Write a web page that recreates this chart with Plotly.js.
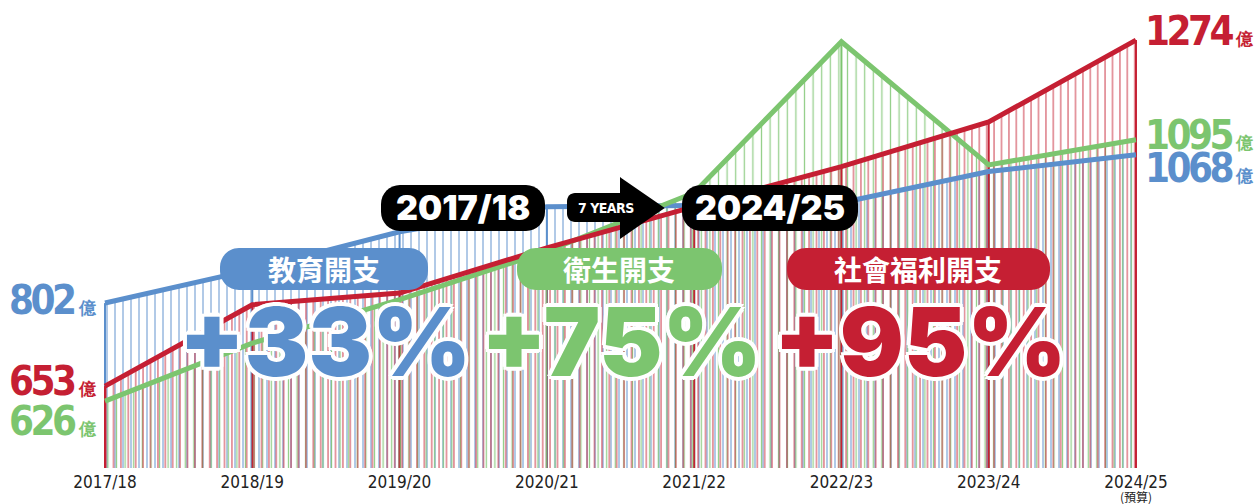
<!DOCTYPE html>
<html>
<head>
<meta charset="utf-8">
<script src="https://cdn.plot.ly/plotly-3.0.1.min.js"></script>
<style>
html,body{margin:0;padding:0;background:#fff;}
#chart{width:1254px;height:504px;}
</style>
</head>
<body>
<div id="chart"></div>
<script>
// ---- data (億港元) ----
const years = ['2017/18','2018/19','2019/20','2020/21','2021/22','2022/23','2023/24','2024/25'];
const yearNotes = ['','','','','','','','(預算)'];
const education = [802, 862, 930, 975, 977, 982, 1038, 1068];
const health    = [626, 730, 808, 895, 1000, 1271, 1050, 1095];
const welfare   = [653, 799, 820, 901, 975, 1047, 1127, 1274];
const seriesNames = ['教育開支', '衛生開支', '社會福利開支'];
const growthLabels = ['+33%', '+75%', '+95%'];
const periodStart = '2017/18';
const periodEnd = '2024/25';
const periodGap = '7 YEARS';
const unit = '億';

// ---- style ----
const BLUE = '#5b8fcc', GREEN = '#7cc56f', RED = '#c51f33';
const ML = 95, MR = 108, MT = 20, MB = 36, WIDTH = 1254, HEIGHT = 504;
const PW = WIDTH - ML - MR, PH = HEIGHT - MT - MB;
const YR = [506, 1310];
const XR = [-0.068, 7.068];
const xs = years.map((_, i) => i);

function px(x){ return (x - ML) / PW; }
function py(y){ return (HEIGHT - MB - y) / PH; }
function P(x, y){ return px(x).toFixed(5) + ',' + py(y).toFixed(5); }
function roundRect(x0, y0, x1, y1, r){
  const k = 0.5523 * r;
  return 'M' + P(x0 + r, y0) + ' L' + P(x1 - r, y0) +
    ' C' + P(x1 - r + k, y0) + ' ' + P(x1, y0 + r - k) + ' ' + P(x1, y0 + r) +
    ' L' + P(x1, y1 - r) +
    ' C' + P(x1, y1 - r + k) + ' ' + P(x1 - r + k, y1) + ' ' + P(x1 - r, y1) +
    ' L' + P(x0 + r, y1) +
    ' C' + P(x0 + r - k, y1) + ' ' + P(x0, y1 - r + k) + ' ' + P(x0, y1 - r) +
    ' L' + P(x0, y0 + r) +
    ' C' + P(x0, y0 + r - k) + ' ' + P(x0 + r - k, y0) + ' ' + P(x0 + r, y0) + ' Z';
}

const series = [
  {vals: education, color: BLUE, size: 8,   name: seriesNames[0]},
  {vals: health,    color: GREEN, size: 8.6, name: seriesNames[1]},
  {vals: welfare,   color: RED,  size: 7.4, name: seriesNames[2]}
];

const traces = [];
// hatched fills
series.forEach(s => {
  traces.push({
    x: xs, y: s.vals, type: 'scatter', mode: 'lines',
    line: {width: 0, color: s.color},
    fill: 'tozeroy', fillcolor: 'rgba(0,0,0,0)',
    fillpattern: {shape: '|', fgcolor: s.color, bgcolor: 'rgba(255,255,255,0)', size: s.size, solidity: 0.15, fgopacity: 0.8},
    hoverinfo: 'skip', showlegend: false
  });
});
// lines
series.forEach(s => {
  traces.push({
    x: xs, y: s.vals, type: 'scatter', mode: 'lines',
    line: {width: 5, color: s.color},
    name: s.name, showlegend: false, hoverinfo: 'skip'
  });
});

const shapes = [];
// drop lines at each year
series.forEach((s, si) => {
  s.vals.forEach((v, i) => {
    shapes.push({type: 'line', xref: 'x', yref: 'y', x0: i, x1: i, y0: YR[0], y1: v,
      line: {color: s.color, width: 2}, layer: 'below'});
  });
});

// pills
const pills = [
  {b: [220, 248, 428, 290], r: 19, color: BLUE},
  {b: [517, 248, 722, 290], r: 19, color: GREEN},
  {b: [787, 248, 1050, 290], r: 19, color: RED},
  {b: [381, 185, 545, 231], r: 19, color: '#000'},
  {b: [682, 185, 858, 231], r: 19, color: '#000'}
];
pills.forEach(p => {
  shapes.push({type: 'path', xref: 'paper', yref: 'paper', layer: 'above',
    path: roundRect(p.b[0], p.b[1], p.b[2], p.b[3], p.r), fillcolor: p.color, line: {width: 0}});
});
// arrow
shapes.push({type: 'path', xref: 'paper', yref: 'paper', layer: 'above',
  path: roundRect(567, 193, 632, 222, 8), fillcolor: '#000', line: {width: 0}});
shapes.push({type: 'path', xref: 'paper', yref: 'paper', layer: 'above',
  path: 'M' + P(621, 179) + ' L' + P(663, 208) + ' L' + P(621, 237) + ' Z', fillcolor: '#000', line: {color: '#000', width: 2}});

const NUMFONT = 'Liberation Sans Narrow, DejaVu Sans Condensed, Arial Narrow, sans-serif';
const ROUND = 'Inter, Open Sans, Noto Sans, sans-serif';
const CJK = 'Noto Sans CJK TC, Noto Sans CJK SC, sans-serif';

const annotations = [];
function valueLabel(v){
  return '<b><span style="letter-spacing:-3.5px">' + v + '</span><span style="font-size:17px"> ' + unit + '</span></b>';
}
// end labels: [education, health, welfare]
const leftShift = [3, -20, 5];
const rightShift = [-13, 5, 9];
series.forEach((s, si) => {
  annotations.push({xref: 'x', yref: 'y', x: 0, y: s.vals[0], xanchor: 'right', yanchor: 'middle',
    xshift: -6, yshift: leftShift[si], showarrow: false,
    text: valueLabel(s.vals[0]), font: {family: NUMFONT, size: 40, color: s.color}});
  annotations.push({xref: 'x', yref: 'y', x: 7, y: s.vals[7], xanchor: 'left', yanchor: 'middle',
    xshift: 7, yshift: rightShift[si], showarrow: false,
    text: valueLabel(s.vals[7]), font: {family: NUMFONT, size: 40, color: s.color}});
});

// pill labels
const pillCenters = [[324, 269], [619, 269], [918, 269]];
seriesNames.forEach((n, i) => {
  annotations.push({xref: 'paper', yref: 'paper', x: px(pillCenters[i][0]), y: py(pillCenters[i][1]),
    xanchor: 'center', yanchor: 'middle', showarrow: false,
    text: '<b>' + n + '</b>', font: {family: CJK, size: 28, color: '#fff', weight: 900}});
});
// growth labels
const outline = '4px 0 0 #fff, -4px 0 0 #fff, 0 4px 0 #fff, 0 -4px 0 #fff, 3px 3px 0 #fff, -3px -3px 0 #fff, 3px -3px 0 #fff, -3px 3px 0 #fff';
const growthCenters = [[325, 341], [621, 341], [920, 341]];
growthLabels.forEach((g, i) => {
  annotations.push({xref: 'paper', yref: 'paper', x: px(growthCenters[i][0]), y: py(growthCenters[i][1]),
    xanchor: 'center', yanchor: 'middle', showarrow: false,
    text: g, font: {family: ROUND, size: 95, color: series[i].color, weight: 900, shadow: outline}});
});
// period labels
annotations.push({xref: 'paper', yref: 'paper', x: px(463), y: py(208), xanchor: 'center', yanchor: 'middle',
  showarrow: false, text: periodStart, font: {family: ROUND, size: 34, color: '#fff', weight: 900}});
annotations.push({xref: 'paper', yref: 'paper', x: px(770), y: py(208), xanchor: 'center', yanchor: 'middle',
  showarrow: false, text: periodEnd, font: {family: ROUND, size: 34, color: '#fff', weight: 900}});
annotations.push({xref: 'paper', yref: 'paper', x: px(606), y: py(208), xanchor: 'center', yanchor: 'middle',
  showarrow: false, text: '<b><span style="letter-spacing:-0.5px">' + periodGap + '</span></b>', font: {family: NUMFONT, size: 14, color: '#fff'}});

// notes under tick labels
yearNotes.forEach((n, i) => {
  if (!n) return;
  annotations.push({xref: 'x', yref: 'paper', x: i, y: py(496), xanchor: 'center', yanchor: 'middle',
    showarrow: false, text: n, font: {family: CJK, size: 12, color: '#222'}});
});

const layout = {
  width: WIDTH, height: HEIGHT,
  margin: {l: ML, r: MR, t: MT, b: MB, pad: 0},
  paper_bgcolor: '#fff', plot_bgcolor: '#fff',
  showlegend: false,
  xaxis: {range: XR, tickvals: xs, ticktext: years, showgrid: false, zeroline: false, showline: false,
    ticks: '', ticklabelstandoff: 2, tickfont: {family: NUMFONT, size: 17, color: '#222'}, fixedrange: true},
  yaxis: {range: YR, showgrid: false, zeroline: false, showline: false, showticklabels: false, ticks: '', fixedrange: true},
  shapes: shapes,
  annotations: annotations
};

Plotly.newPlot('chart', traces, layout, {displayModeBar: false, staticPlot: true});
</script>
</body>
</html>
